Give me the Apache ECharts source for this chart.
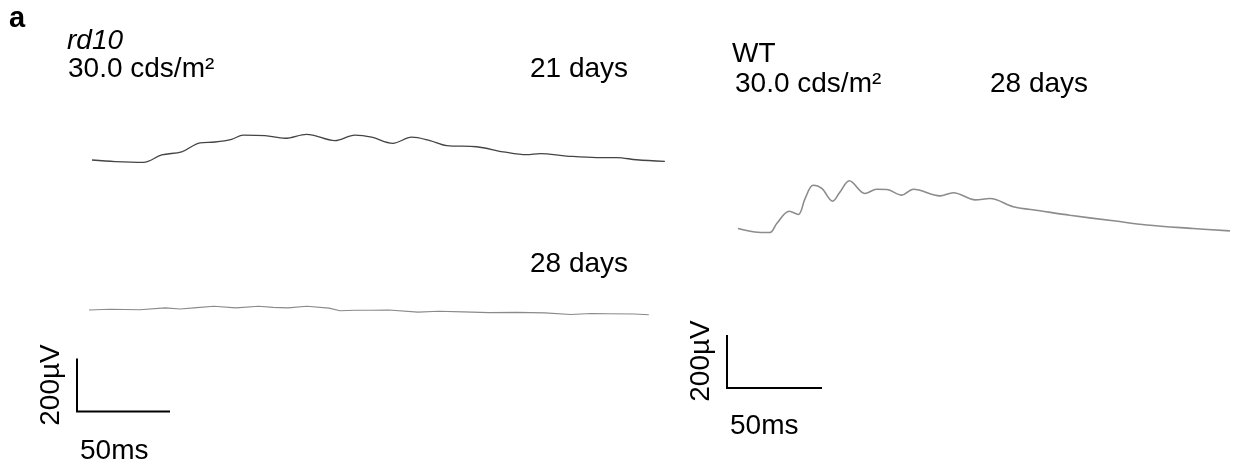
<!DOCTYPE html>
<html><head><meta charset="utf-8">
<script src="https://cdn.jsdelivr.net/npm/echarts@6/dist/echarts.min.js"></script>
<style>html,body{margin:0;padding:0;background:#fff}#c{width:1234px;height:467px}</style>
</head><body><div id="c"></div>
<script>
// ---- Data (time in ms, amplitude in µV) ----
const rd10Day21Ms = [0, 12.4, 27.6, 37.5, 48.2, 58.1, 66.1, 75.1, 81.3, 93, 103.8, 115.4, 130.6, 141.4, 150.4, 161.7, 171.9, 181.7, 190.7, 206.8, 221.1, 233.7, 240.9, 255.2, 271.3, 282.1, 292.8, 308];
const rd10Day21Uv = [0, -6, -9, 19, 31, 65, 68, 78, 94, 92, 82, 97, 73, 94, 86, 63, 86, 73, 54, 50, 31, 20, 24, 15, 9, 9, 1, -5];

const rd10Day28Ms = [0, 11.3, 27.2, 41.1, 48.9, 58, 67.2, 79, 91.1, 99, 107, 117.1, 129, 134.9, 143, 151.1, 161.1, 176.9, 188, 201.1, 215.1, 230, 245, 259, 270, 279, 293, 301];
const rd10Day28Uv = [0, 3, 1, 8, 4, 9, 14, 8, 14, 10, 8, 14, 7, -3, -1, -1, 0, -8, -5, -7, -10, -9, -11, -17, -13, -14, -15, -18];

const wtDay28Ms = [0, 8.9, 16.8, 20.4, 27, 31.7, 35.3, 39.6, 44.1, 49.8, 53.7, 58.6, 66.8, 73, 78.3, 86.2, 92.3, 106.3, 113.3, 125, 132.6, 144.9, 158.9, 174.7, 197.5, 215.1, 239.6, 258.9];
const wtDay28Uv = [0, -13, -15, 19, 65, 53, 113, 163, 151, 103, 138, 180, 132, 148, 147, 126, 148, 123, 135, 108, 113, 82, 67, 50, 29, 13, 0, -9];

const scaleBarMs = [0, 0, 50];
const scaleBarUv = [200, 0, 0];

const panelLabels = ['a', 'rd10', '30.0 cds/m²', '21 days', '28 days', 'WT', '30.0 cds/m²', '28 days'];
const scaleLabels = ['200µV', '50ms'];

// ---- Layout helpers ----
const PX_UV = 53 / 200;
function gridAt(ox, oy, pxMs, tMin, tMax, vMin, vMax) {
  return { left: ox + tMin * pxMs, top: oy - vMax * PX_UV, width: (tMax - tMin) * pxMs, height: (vMax - vMin) * PX_UV };
}
const ranges = [
  { o: [92, 160], px: 1.86, t: [0, 310], v: [-100, 200] },
  { o: [89, 310], px: 1.86, t: [0, 310], v: [-100, 100] },
  { o: [738, 228.5], px: 1.9, t: [0, 260], v: [-100, 250] },
  { o: [77, 411.5], px: 1.86, t: [0, 50], v: [0, 200] },
  { o: [727, 388], px: 1.9, t: [0, 50], v: [0, 200] }
];
const grids = ranges.map(r => gridAt(r.o[0], r.o[1], r.px, r.t[0], r.t[1], r.v[0], r.v[1]));
const xAxes = ranges.map((r, i) => ({ type: 'value', gridIndex: i, min: r.t[0], max: r.t[1], show: false }));
const yAxes = ranges.map((r, i) => ({ type: 'value', gridIndex: i, min: r.v[0], max: r.v[1], show: false }));

const zip = (a, b) => a.map((x, i) => [x, b[i]]);
function trace(i, ms, uv, color, w, smooth) {
  return { type: 'line', xAxisIndex: i, yAxisIndex: i, data: zip(ms, uv), symbol: 'none', smooth: smooth,
    clip: false, lineStyle: { color: color, width: w }, silent: true };
}
function bar(i) {
  return { type: 'line', xAxisIndex: i, yAxisIndex: i, data: zip(scaleBarMs, scaleBarUv), symbol: 'none',
    clip: false, lineStyle: { color: '#000', width: 2, join: 'miter', cap: 'butt' }, silent: true };
}

const FF = '"Liberation Sans", Arial, Helvetica, sans-serif';
function txt(s, x, baseline, size, opts) {
  opts = opts || {};
  return { type: 'text', x: x, y: baseline - 0.31 * size, rotation: opts.rot || 0, silent: true,
    style: { text: s, fill: '#000', font: (opts.style || '') + ' ' + (opts.weight || 'normal') + ' ' + size + 'px ' + FF,
      textAlign: opts.align || 'left', textVerticalAlign: 'middle' } };
}

const chart = echarts.init(document.getElementById('c'), null, { renderer: 'canvas' });
chart.setOption({
  animation: false,
  backgroundColor: '#fff',
  grid: grids,
  xAxis: xAxes,
  yAxis: yAxes,
  series: [
    trace(0, rd10Day21Ms, rd10Day21Uv, '#444444', 1.3, 0.35),
    trace(1, rd10Day28Ms, rd10Day28Uv, '#8a8a8a', 1.1, false),
    trace(2, wtDay28Ms, wtDay28Uv, '#8c8c8c', 1.6, 0.35),
    bar(3),
    bar(4)
  ],
  graphic: [
    txt(panelLabels[0], 9, 27.5, 29, { weight: 'bold' }),
    txt(panelLabels[1], 67, 50, 28, { style: 'italic' }),
    txt(panelLabels[2], 68, 78, 28),
    txt(panelLabels[3], 530, 78, 28),
    txt(panelLabels[4], 530, 273, 28),
    txt(panelLabels[5], 732, 63, 28),
    txt(panelLabels[6], 735, 93, 28),
    txt(panelLabels[7], 990, 93, 28),
    { type: 'text', x: 51.5, y: 385, rotation: Math.PI / 2, silent: true,
      style: { text: scaleLabels[0], fill: '#000', font: 'normal 28px ' + FF, textAlign: 'center', textVerticalAlign: 'middle' } },
    txt(scaleLabels[1], 80, 460, 28),
    { type: 'text', x: 701.5, y: 361, rotation: Math.PI / 2, silent: true,
      style: { text: scaleLabels[0], fill: '#000', font: 'normal 28px ' + FF, textAlign: 'center', textVerticalAlign: 'middle' } },
    txt(scaleLabels[1], 730, 435, 28)
  ]
});
</script></body></html>
